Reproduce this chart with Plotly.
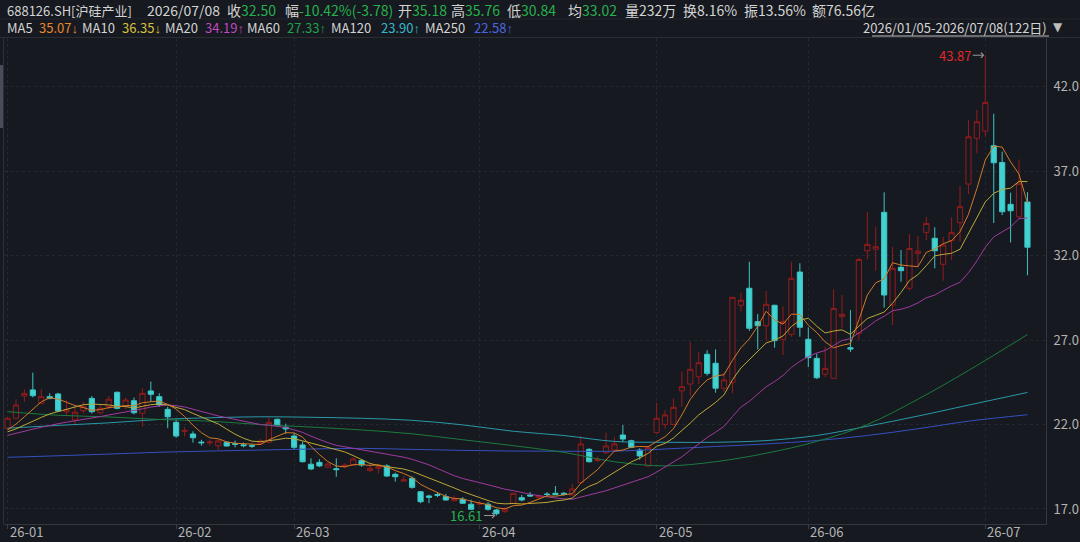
import plotly.graph_objects as go

W, H = 1080, 542
ML, MR, MT, MB = 4, 34, 38, 18
PW = W - ML - MR
PH = H - MT - MB


def px(xp):
    return (xp - ML) / PW


def py(yp):
    return (H - MB - yp) / PH


# ---------------- data ----------------
opens = [21.78, 22.37, 23.69, 24.05, 23.26, 23.65, 23.81, 22.75, 22.27, 22.82,
         23.55, 22.70, 23.06, 23.91, 23.06, 23.41, 22.67, 23.99, 23.65, 22.90,
         22.13, 21.60, 21.44, 20.96, 20.92, 20.75, 20.95, 20.87, 20.80, 20.75,
         20.89, 20.95, 22.31, 21.84, 21.32, 20.79, 19.65, 19.76, 19.47, 19.38,
         19.50, 19.60, 19.86, 19.27, 19.41, 19.55, 19.05, 18.66, 18.82, 18.02,
         17.77, 17.85, 17.73, 17.49, 17.57, 17.28, 17.28, 17.28, 16.94, 16.84,
         17.34, 17.67, 17.83, 17.69, 17.88, 17.93, 17.93, 17.83, 18.56, 20.53,
         19.86, 20.33, 20.49, 21.38, 21.04, 20.49, 19.55, 21.52, 22.01, 22.01,
         24.00, 24.40, 24.83, 26.16, 25.63, 24.15, 24.48, 29.06, 30.07, 28.09,
         27.85, 29.06, 27.05, 27.34, 31.03, 27.05, 25.92, 24.98, 24.74, 28.39,
         26.55, 27.40, 32.29, 32.38, 34.57, 29.08, 31.31, 30.07, 32.14, 33.38,
         33.03, 31.49, 32.89, 33.95, 36.24, 38.95, 39.38, 38.51, 37.52, 35.04,
         34.30, 35.18]
highs = [22.45, 23.50, 24.09, 25.07, 24.09, 23.85, 23.88, 23.45, 23.06, 23.35,
         23.69, 23.20, 23.69, 23.95, 23.60, 23.60, 24.15, 24.54, 23.85, 23.05,
         22.30, 21.85, 21.60, 21.10, 21.10, 21.10, 21.00, 21.05, 20.93, 20.85,
         21.15, 22.43, 22.35, 22.05, 21.50, 20.99, 20.00, 19.95, 19.75, 20.00,
         19.70, 20.05, 19.95, 19.65, 19.62, 19.65, 19.15, 18.95, 18.92, 18.05,
         17.85, 17.95, 17.90, 17.80, 17.70, 17.55, 17.45, 17.40, 17.00, 17.10,
         17.95, 17.83, 18.00, 17.85, 18.00, 18.36, 18.00, 18.48, 21.32, 20.60,
         20.10, 21.52, 21.25, 21.97, 21.10, 20.60, 20.75, 23.29, 22.85, 23.55,
         25.13, 26.90, 26.30, 26.40, 26.45, 25.10, 29.55, 29.81, 31.64, 28.55,
         29.91, 29.10, 29.00, 31.64, 31.55, 27.75, 26.20, 26.60, 30.01, 29.67,
         28.78, 31.85, 34.60, 33.71, 35.75, 32.53, 32.33, 33.28, 33.16, 34.31,
         33.68, 33.12, 34.27, 36.12, 40.03, 40.62, 43.87, 40.40, 38.16, 35.73,
         37.70, 35.76]
lows = [21.70, 22.30, 23.35, 23.61, 23.20, 23.50, 22.75, 22.57, 21.97, 22.67,
        22.65, 22.60, 22.90, 22.90, 22.90, 22.60, 21.87, 23.35, 23.05, 21.78,
        21.22, 21.30, 20.93, 20.75, 20.75, 20.49, 20.70, 20.65, 20.65, 20.62,
        20.80, 20.90, 21.90, 21.45, 20.50, 19.75, 19.30, 19.48, 19.42, 18.91,
        19.40, 19.55, 19.50, 19.20, 19.10, 18.90, 18.62, 18.60, 18.20, 17.34,
        17.34, 17.70, 17.50, 17.45, 17.30, 16.95, 17.20, 16.90, 16.61, 16.78,
        17.30, 17.45, 17.72, 17.62, 17.75, 17.82, 17.80, 17.80, 18.50, 19.75,
        19.80, 20.25, 20.45, 20.95, 20.60, 19.92, 19.50, 21.45, 21.75, 21.95,
        23.06, 23.70, 24.40, 24.90, 23.89, 23.95, 23.85, 28.70, 27.55, 26.45,
        26.97, 26.55, 26.12, 27.20, 27.20, 25.40, 24.70, 24.80, 24.70, 27.70,
        26.30, 27.00, 31.78, 31.11, 28.92, 27.89, 30.46, 29.92, 31.31, 32.93,
        31.25, 30.52, 31.74, 32.83, 35.65, 38.06, 39.04, 33.93, 34.40, 32.78,
        34.20, 30.84]
closes = [22.37, 23.16, 23.85, 23.71, 23.65, 23.55, 22.80, 22.88, 22.73, 23.06,
          22.76, 22.96, 23.50, 22.96, 23.45, 22.70, 23.85, 23.79, 23.16, 22.46,
          21.32, 21.65, 21.22, 20.92, 20.96, 21.03, 20.73, 20.83, 20.75, 20.72,
          21.03, 22.13, 21.97, 21.74, 20.65, 19.80, 19.37, 19.55, 19.66, 19.33,
          19.60, 19.96, 19.60, 19.41, 19.50, 18.95, 18.91, 18.72, 18.28, 17.43,
          17.69, 17.81, 17.53, 17.63, 17.34, 16.98, 17.34, 16.98, 16.72, 17.00,
          17.93, 17.53, 17.77, 17.77, 17.86, 17.85, 17.87, 18.18, 20.85, 19.80,
          19.94, 20.73, 20.85, 21.14, 20.65, 20.14, 20.65, 22.37, 22.57, 23.02,
          24.24, 25.27, 25.66, 25.03, 24.15, 24.64, 29.53, 29.36, 27.70, 27.85,
          29.12, 26.97, 28.09, 30.66, 27.76, 25.96, 24.77, 25.33, 28.88, 28.53,
          26.47, 31.78, 32.67, 32.53, 29.67, 31.25, 31.11, 32.43, 32.27, 33.91,
          32.29, 32.63, 33.36, 34.90, 39.04, 39.93, 41.08, 37.50, 34.60, 34.66,
          36.28, 32.50]
# closes of the 19 sessions before 2026/01/05 (estimated from the MA start levels)
pre_closes = [21.0, 21.3, 21.1, 21.4, 21.2, 20.9, 21.1, 21.3, 21.2, 21.0,
              21.4, 21.6, 21.3, 21.5, 21.5, 21.4, 21.7, 21.4, 21.5]

ma_long_idx = [0, 6, 12, 18, 24, 30, 36, 42, 48, 54, 60, 66, 72, 78, 84, 90,
               96, 102, 108, 114, 121]
ma60 = [22.76, 22.55, 22.45, 22.30, 22.20, 22.00, 21.85, 21.68, 21.45, 21.10,
        20.75, 20.35, 19.80, 19.55, 19.80, 20.30, 21.00, 22.00, 23.50, 25.20,
        27.33]
ma120 = [21.78, 21.95, 22.10, 22.30, 22.40, 22.46, 22.43, 22.37, 22.25, 21.98,
         21.60, 21.35, 21.00, 20.95, 20.95, 21.05, 21.35, 21.90, 22.50, 23.15,
         23.90]
ma250 = [20.06, 20.15, 20.25, 20.36, 20.43, 20.49, 20.55, 20.59, 20.53, 20.47,
         20.43, 20.42, 20.42, 20.55, 20.70, 20.85, 21.05, 21.35, 21.75, 22.20,
         22.58]

month_idx = [0, 20, 34, 56, 77, 95, 116]
month_labels = ["26-01", "26-02", "26-03", "26-04", "26-05", "26-06", "26-07"]
y_ticks = [17.0, 22.0, 27.0, 32.0, 37.0, 42.0]

header1 = [
    (145, "2026/07/08", None),
    (225, "收", "32.50"),
    (283, "幅", "-10.42%(-3.78)"),
    (396, "开", "35.18"),
    (449, "高", "35.76"),
    (505, "低", "30.84"),
    (566, "均", "33.02"),
    (623, "量232万", None),
    (681, "换8.16%", None),
    (742, "振13.56%", None),
    (810, "额76.56亿", None),
]
header2 = [
    (5, "MA5", 37, "35.07", "↓", "#e8862a"),
    (80, "MA10", 120, "36.35", "↓", "#d8c13c"),
    (163, "MA20", 203, "34.19", "↑", "#c048c0"),
    (245, "MA60", 285, "27.33", "↑", "#22a04c"),
    (329, "MA120", 379, "23.90", "↑", "#34b8cc"),
    (423, "MA250", 472, "22.58", "↑", "#4a66e0"),
]
title_text = "688126.SH[沪硅产业]"
range_text = "2026/01/05-2026/07/08(122日)"

# ---------------- figure ----------------
BG = "#16191f"
WHITE = "#d4d4d4"
GREEN = "#26b14e"
FONT = "Noto Sans CJK SC"

n = len(closes)
xs = list(range(n))
allc = pre_closes + closes
p = len(pre_closes)


def ma(k):
    return [sum(allc[i + p - k + 1:i + p + 1]) / k for i in range(n)]


fig = go.Figure()
fig.add_trace(go.Candlestick(
    x=xs, open=opens, high=highs, low=lows, close=closes,
    increasing=dict(line=dict(color="#951c1c", width=1), fillcolor=BG),
    decreasing=dict(line=dict(color="#3cc6c6", width=1), fillcolor="#42d2d2"),
    whiskerwidth=0, showlegend=False, hoverinfo="skip",
))

for vals, col in [(ma250, "#3550c0"), (ma120, "#2a98aa"), (ma60, "#1c7a3e")]:
    fig.add_trace(go.Scatter(x=ma_long_idx, y=vals, mode="lines",
                             line=dict(color=col, width=1, shape="spline", smoothing=1.0),
                             showlegend=False, hoverinfo="skip"))
for k, col in [(20, "#a03aa0"), (10, "#bca838"), (5, "#d27a28")]:
    fig.add_trace(go.Scatter(x=xs, y=ma(k), mode="lines",
                             line=dict(color=col, width=1),
                             showlegend=False, hoverinfo="skip"))

ann = [dict(x=px(5), y=py(10), xref="paper", yref="paper", text=title_text,
            showarrow=False, xanchor="left", yanchor="middle",
            font=dict(color=WHITE, size=13, family=FONT))]
for xp, lab, val in header1:
    t = lab if val is None else lab + f"<span style='color:{GREEN}'>{val}</span>"
    ann.append(dict(x=px(xp), y=py(10), xref="paper", yref="paper", text=t,
                    showarrow=False, xanchor="left", yanchor="middle",
                    font=dict(color=WHITE, size=14, family=FONT)))
for xl, lab, xv, val, arrow, col in header2:
    ann.append(dict(x=px(xl), y=py(28), xref="paper", yref="paper", text=lab,
                    showarrow=False, xanchor="left", yanchor="middle",
                    font=dict(color=WHITE, size=13, family=FONT)))
    t = val + f"<span style='font-family:Liberation Sans;font-size:13px'>{arrow}</span>"
    ann.append(dict(x=px(xv), y=py(28), xref="paper", yref="paper", text=t,
                    showarrow=False, xanchor="left", yanchor="middle",
                    font=dict(color=col, size=13, family=FONT)))
ann.append(dict(x=px(1049), y=py(28), xref="paper", yref="paper", text=range_text,
                showarrow=False, xanchor="right", yanchor="middle",
                font=dict(color=WHITE, size=13, family=FONT)))
ann.append(dict(x=px(1058), y=py(27), xref="paper", yref="paper", text="▼",
                showarrow=False, xanchor="center", yanchor="middle",
                font=dict(color="#bdbdbd", size=12, family="DejaVu Sans")))
# month labels along the time axis (left-aligned at each month's first session)
for mi, ml in zip(month_idx, month_labels):
    ann.append(dict(x=mi, y=py(541.5), xref="x", yref="paper", text=ml,
                    showarrow=False, xanchor="left", yanchor="bottom", xshift=1,
                    borderpad=0,
                    font=dict(color="#b4b4b4", size=13, family=FONT)))
# extreme labels
ann.append(dict(x=116, y=max(highs), xref="x", yref="y", text=f"{max(highs):.2f}",
                showarrow=True, ax=-30, ay=0, arrowhead=4, arrowsize=1,
                arrowwidth=1, arrowcolor="#9a9a9a", standoff=1,
                font=dict(color="#e3262b", size=13, family=FONT)))
ann.append(dict(x=58, y=min(lows), xref="x", yref="y", text=f"{min(lows):.2f}",
                showarrow=True, ax=-30, ay=0, arrowhead=4, arrowsize=1,
                arrowwidth=1, arrowcolor="#9a9a9a", standoff=1,
                font=dict(color=GREEN, size=13, family=FONT)))

shapes = [
    dict(type="line", xref="paper", yref="paper", x0=px(0), x1=px(W), y0=py(19), y1=py(19),
         line=dict(color="#22252c", width=1)),
    dict(type="line", xref="paper", yref="paper", x0=px(0), x1=px(W), y0=py(37.5), y1=py(37.5),
         line=dict(color="#2a2d34", width=1)),
    dict(type="line", xref="paper", yref="paper", x0=px(872), x1=px(1049), y0=py(36), y1=py(36),
         line=dict(color="#bdbdbd", width=1)),
    dict(type="rect", xref="paper", yref="paper", x0=px(0), x1=px(3), y0=py(128), y1=py(65),
         fillcolor="#4b4c5a", line=dict(width=0)),
    dict(type="line", xref="paper", yref="paper", x0=px(3.5), x1=px(3.5), y0=0, y1=1,
         line=dict(color="#2c3038", width=1)),
]

fig.update_layout(
    width=W, height=H,
    margin=dict(l=ML, r=MR, t=MT, b=MB, pad=0, autoexpand=False),
    paper_bgcolor=BG, plot_bgcolor=BG,
    boxgap=0.12,
    showlegend=False,
    annotations=ann, shapes=shapes,
    font=dict(family=FONT, color="#b0b0b0", size=13),
    xaxis=dict(range=[-0.42, 123.2], rangeslider=dict(visible=False),
               tickmode="array", tickvals=month_idx, ticktext=month_labels,
               showticklabels=False,
               ticks="outside", ticklen=4, tickcolor="#3a3e46",
               showgrid=True, gridcolor="#23272e", griddash="dot", gridwidth=1,
               showline=True, linecolor="#33373f", linewidth=1,
               zeroline=False, fixedrange=True, automargin=False),
    yaxis=dict(range=[16.11, 44.89], side="right",
               tickmode="array", tickvals=y_ticks, ticktext=[f"{v:.1f}" for v in y_ticks],
               showgrid=True, gridcolor="#23272e", griddash="dot", gridwidth=1,
               showline=True, linecolor="#33373f", linewidth=1, mirror=False,
               ticks="", ticklabelstandoff=4,
               tickfont=dict(color="#b4b4b4", size=13, family=FONT),
               zeroline=False, fixedrange=True, automargin=False),
)

fig.write_html("out.html")
